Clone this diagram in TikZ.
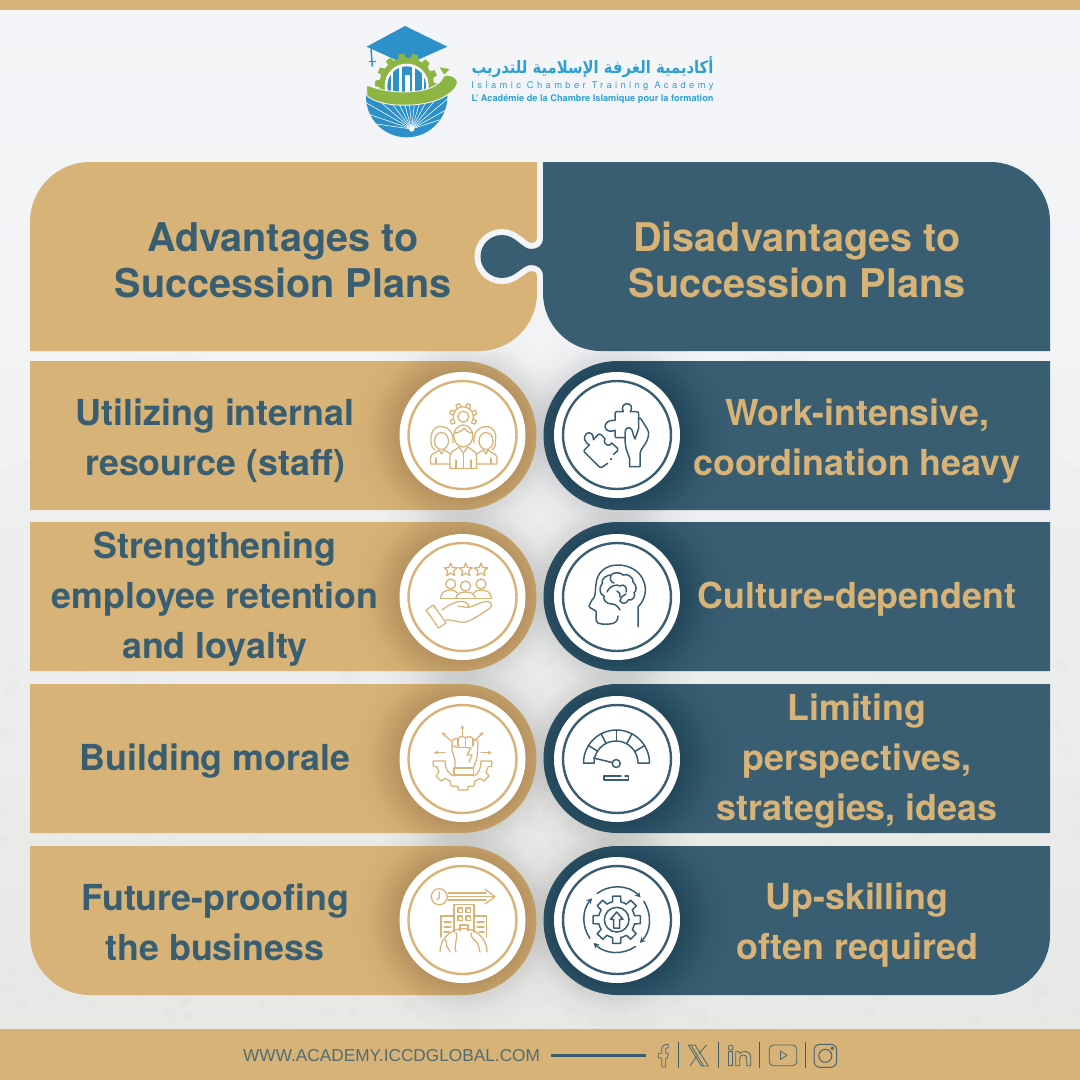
\documentclass[tikz,border=0pt]{standalone}
\usepackage{fontspec}
\usepackage{graphicx}
\usetikzlibrary{shapes.geometric,arrows.meta}
\setmainfont{TeX Gyre Heros}
\TeXXeTstate=1
\newfontfamily\arabicfont[Script=Arabic]{DejaVu Sans}
\newfontfamily\lightfont{Liberation Sans}
\definecolor{tan}{HTML}{D7B377}
\definecolor{deep}{HTML}{395E72}
\definecolor{paper}{HTML}{F3F5F8}
\definecolor{paperlow}{HTML}{E9E9E5}
\definecolor{logob}{HTML}{2E90C8}
\definecolor{logog}{HTML}{8DB544}
\definecolor{logot}{HTML}{2FA0D4}
\tikzset{
  head/.style={font=\fontsize{39.6}{46}\bfseries\selectfont,align=center,inner sep=0pt,anchor=center},
  rowtext/.style={font=\fontsize{35.8}{50}\bfseries\selectfont,align=center,inner sep=0pt,anchor=center},
  lt/.style={text=deep},
  rt/.style={text=tan},
  ilt/.style={draw=tan,line width=1.25pt,line join=round,line cap=round},
  idk/.style={draw=deep,line width=1.5pt,line join=round,line cap=round},
  soc/.style={draw=deep!90!tan,line width=.8pt,line join=round},
  disc/.style={circle,fill=white,inner sep=0pt,minimum size=126pt},
}
\newcommand\leftpill[2]{(30,#1) -- (462,#1) arc[start angle=-90,end angle=90,radius=74.5] -- (30,#2) -- cycle}
\newcommand\rightpill[2]{(1050,#1) -- (618,#1) arc[start angle=270,end angle=90,radius=74.5] -- (1050,#2) -- cycle}
\newcommand\softshadow[2]{%
  \foreach \r in {64,68,...,112}{\fill[black,opacity=.005] (#1,#2) circle[radius=\r];}
  \foreach \r in {64,67,...,91}{\fill[black,opacity=.009] (#1,#2) circle[radius=\r];}
}
\newcommand\badge[5]{%
  \node[disc] (#1) at (#2,#3) {};
  \draw[#4,line width=2.4pt] (#2,#3) circle[radius=54];
}
\begin{document}
\begin{tikzpicture}[x=1pt,y=-1pt]
\useasboundingbox (0,0) rectangle (1080,1080);
% ---------- background
\shade[top color=paper,bottom color=paperlow,middle color=paper!70!paperlow] (0,0) rectangle (1080,1080);
\fill[black!12,opacity=.12] (0,470) -- (60,448) -- (120,360) -- (190,352) -- (260,400) -- (360,410) -- (450,380) -- (505,345) -- (560,400) -- (660,380) -- (780,352) -- (900,392) -- (1010,420) -- (1080,470) -- (1080,1030) -- (0,1030) -- cycle;
\pgfmathsetseed{7}
\foreach \i in {1,...,700}{
  \pgfmathsetmacro\px{rnd*1080}\pgfmathsetmacro\py{560+rnd*470}
  \fill[black!50!yellow!50!black,opacity=.012] (\px,\py) circle[radius=3+rnd*4];
}
% ---------- top and bottom bands
\fill[tan] (0,0) rectangle (1080,10);
\fill[tan] (0,1029) rectangle (1080,1080);
% ---------- logo (drawn in the units of a 3x crop)
\begin{scope}[shift={(360,20)},x=.33333pt,y=-.33333pt]
  \begin{scope}
    \clip (0,215) rectangle (300,360);
    \clip (140,230) circle[radius=122];
    \fill[logob] (0,215) rectangle (300,360);
    \foreach \a in {188,199,...,352}{\draw[white,line width=.55pt] (155,327) -- ++(\a:190);}
    \fill[white] (155,327) circle[radius=8];
  \end{scope}
  \fill[logob] (135,18) -- (262,80) -- (190,112) -- (140,135) -- (90,112) -- (20,80) -- cycle;
  \draw[logob,line width=1.5pt] (33,85) -- (37,140);
  \draw[logob,line width=1.2pt] (28,125) -- (47,125);
  \begin{scope}
    \clip (0,0) rectangle (300,235);
    \fill[logog,shift={(140,195)}] (-4:82)
      \foreach \a in {0,25.714,51.428,77.142,102.857,128.571,154.285,180,205.714,231.428,257.142,282.857,308.571,334.285}{
        -- ({\a-4}:82) -- ({\a-2.5}:95) -- ({\a+8}:95) -- ({\a+11}:82)
      } -- cycle;
    \fill[white] (140,197) circle[radius=66];
    \begin{scope}
      \clip (140,197) circle[radius=58];
      \foreach \xa/\xb in {75/93,100/118,165/185,192/212}{\fill[logob] (\xa,130) rectangle (\xb,235);}
      \fill[logob] (125,130) rectangle (157,235);
      \fill[white] (134,165) rectangle (150,235);
    \end{scope}
  \end{scope}
  \path[fill=logog,draw=paper,line width=.9pt]
     (20,195) .. controls (70,215) and (125,220) .. (175,213) .. controls (215,208) and (245,190) .. (252,165)
     -- (235,140) -- (272,146) -- (252,168) -- (262,165)
     .. controls (295,170) and (300,190) .. (280,210) .. controls (240,250) and (170,258) .. (110,255)
     .. controls (70,253) and (30,240) .. (20,225) -- cycle;
\end{scope}
\node[inner sep=0pt,anchor=center,text=logot] (logoar) at (592.5,67) {\resizebox{242pt}{17pt}{\arabicfont\bfseries\beginR أكاديمية الغرفة الإسلامية للتدريب\endR}};
\node[inner sep=0pt,anchor=center,text=logot] (logoen) at (592.5,86) {\resizebox{242pt}{!}{\fontsize{8.5}{9}\selectfont\addfontfeature{LetterSpace=36}Islamic Chamber Training Academy}};
\node[inner sep=0pt,anchor=center,text=logot] (logofr) at (592.5,99) {\resizebox{242pt}{!}{\fontsize{9}{9}\bfseries\selectfont L' Académie de la Chambre Islamique pour la formation}};
% ---------- shadows on the background
\foreach \cy in {435,597,759,920}{\softshadow{462.5}{\cy}\softshadow{617}{\cy}}
% ---------- header pieces
\fill[tan] (90,162) -- (537,162) -- (537,293) arc[start angle=0,end angle=90,radius=58] -- (30,351) -- (30,222) arc[start angle=180,end angle=270,radius=60] -- cycle;
\draw[paper,line width=12pt] (543,226) -- (543,238) .. controls (543,246) and (537,249) .. (531,249) .. controls (522,249) and (516,235) .. (502,235) arc[start angle=-90,end angle=-270,radius=21.5] .. controls (516,278) and (522,265) .. (531,265) .. controls (537,265) and (543,268) .. (543,276) -- (543,288);
\fill[deep] (543,162) -- (990,162) arc[start angle=-90,end angle=0,radius=60] -- (1050,351) -- (601,351) arc[start angle=90,end angle=180,radius=58] -- (543,276) .. controls (543,268) and (537,265) .. (531,265) .. controls (522,265) and (516,278) .. (502,278) arc[start angle=90,end angle=270,radius=21.5] .. controls (516,235) and (522,249) .. (531,249) .. controls (537,249) and (543,246) .. (543,238) -- cycle;
\node[head,lt] (hl) at (283,260) {Advantages to\\Succession Plans};
\node[head,rt] (hr) at (797,260) {Disadvantages to\\Succession Plans};
% ---------- rows
\foreach \t/\b/\cy in {361/510/435,522/671/597,684/833/759}{
  \fill[tan] \leftpill{\t}{\b};
  \begin{scope}\clip \leftpill{\t}{\b}; \softshadow{462.5}{\cy}\end{scope}
  \fill[deep] \rightpill{\t}{\b};
  \begin{scope}\clip \rightpill{\t}{\b}; \softshadow{617}{\cy}\end{scope}
}
\newcommand\leftlast{(30,846) -- (462,846) arc[start angle=-90,end angle=90,radius=74.5] -- (90,995) arc[start angle=90,end angle=180,radius=60] -- cycle}
\newcommand\rightlast{(1050,846) -- (618,846) arc[start angle=270,end angle=90,radius=74.5] -- (990,995) arc[start angle=90,end angle=0,radius=60] -- cycle}
\fill[tan] \leftlast;
\begin{scope}\clip \leftlast; \softshadow{462.5}{920}\end{scope}
\fill[deep] \rightlast;
\begin{scope}\clip \rightlast; \softshadow{617}{920}\end{scope}
% discs
\badge{dl1}{462.5}{435}{tan}{}
\badge{dl2}{462.5}{597}{tan}{}
\badge{dl3}{462.5}{759}{tan}{}
\badge{dl4}{462.5}{920}{tan}{}
\badge{dr1}{617}{435}{deep}{}
\badge{dr2}{617}{597}{deep}{}
\badge{dr3}{617}{759}{deep}{}
\badge{dr4}{617}{920}{deep}{}
% ---------- row text
\node[rowtext,lt] (t1) at (215,441) {Utilizing internal\\resource (staff)};
\node[rowtext,lt] (t2) at (215,599.5) {Strengthening\\employee retention\\and loyalty};
\node[rowtext,lt] (t3) at (215,761) {Building morale};
\node[rowtext,lt] (t4) at (215,922.5) {Future-proofing\\the business};
\node[rowtext,rt] (u1) at (857,441) {Work-intensive,\\coordination heavy};
\node[rowtext,rt] (u2) at (857,599) {Culture-dependent};
\node[rowtext,rt] (u3) at (857,761.5) {Limiting\\perspectives,\\strategies, ideas};
\node[rowtext,rt] (u4) at (857,925.5) {Up-skilling\\often required};
% ---------- icon 1: team and gear
\begin{scope}[ilt]
  \draw (463.3,416.7) circle[radius=5.5];
  \draw (463.3,416.7) ++(150:10) arc[start angle=150,end angle=390,radius=10];
  \foreach \a in {-25,20,65,115,160,205}{\draw[rotate around={\a:(463.3,416.7)}] (473,414.5) -- (477,415) -- (477,418.4) -- (473,419);}
  \fill[white,draw=none] (463.3,436) ellipse[x radius=12,y radius=13];
  \draw (463.3,436) ellipse[x radius=9.5,y radius=11];
  \draw (454,433) .. controls (458,433) and (462,431) .. (464,428) .. controls (466,431) and (469,433) .. (473,433);
  \draw (450,468.5) -- (450,456) .. controls (450,451) and (456,450) .. (459,447) -- (463.3,453) -- (468,447) .. controls (471,450) and (476.5,451) .. (476.5,456) -- (476.5,468.5) -- cycle;
  \draw (463.3,453) -- (463.3,468.5);
  \draw (456,468.5) -- (456,460) (471,468.5) -- (471,460);
  \draw (441.5,441) ellipse[x radius=7,y radius=8.5];
  \draw (453,443) .. controls (454,432) and (448,426.5) .. (441,426.5) .. controls (433,426.5) and (430,434) .. (431,441) .. controls (431,447) and (433,449) .. (435,450);
  \draw (450,464) -- (430.5,464) -- (430.5,458) .. controls (431,453) and (436,453) .. (439,450) -- (441.5,454) -- (444,450) .. controls (446,452) and (449,452) .. (451,454);
  \draw (436,464) -- (436,458);
  \draw (486,441) ellipse[x radius=7,y radius=8.5];
  \draw (474,443) .. controls (473,432) and (479,426.5) .. (486,426.5) .. controls (494,426.5) and (497,434) .. (495.5,441) .. controls (495.5,447) and (494,449) .. (492,450);
  \draw (477,464) -- (497,464) -- (497,458) .. controls (496.5,453) and (491,453) .. (488,450) -- (486,454) -- (483.5,450) .. controls (481,452) and (478,452) .. (476.5,454);
  \draw (491,464) -- (491,458);
\end{scope}
% ---------- icon 2: hand holding people
\begin{scope}[ilt]
  \foreach \sx/\nm in {450.7/sa,465.7/sb,481/sc}{\node[star,star points=5,star point ratio=2.3,draw=tan,line width=1.25pt,inner sep=0pt,minimum size=14pt] (\nm) at (\sx,570) {};}
  \draw (450.7,584) circle[radius=5] (465.5,586) circle[radius=5] (481,584) circle[radius=5];
  \draw (440.5,598) .. controls (441,592) and (446,590) .. (450.7,590) .. controls (453,590) and (456,591) .. (457.5,593);
  \draw (491.5,598) .. controls (491,592) and (486,590) .. (481,590) .. controls (478,590) and (475,591) .. (473.5,593);
  \draw (456,598) .. controls (456,594) and (460,592) .. (465.5,592) .. controls (471,592) and (475,594) .. (475,598);
  \draw (440.5,598.3) -- (491.5,598.3);
  \draw[rotate around={35:(437,617)}] (432,605) rectangle (441,627);
  \fill[tan] (434,608) circle[radius=.9];
  \draw (442,610) .. controls (450,604) and (456,601) .. (462,601.5) .. controls (466,602) and (470,604) .. (468,607.5) -- (458,606);
  \draw (468,607.5) .. controls (475,606) and (482,601) .. (487,601.5) .. controls (491,601.5) and (493,605) .. (490,608) .. controls (482,614) and (472,620) .. (466,622) .. controls (460,623.5) and (452,619) .. (445.5,620);
\end{scope}
% ---------- icon 3: fist and half gear
\begin{scope}[ilt]
  \draw (452,750) -- (452,742) .. controls (452,739) and (456,738) .. (458,739) .. controls (459,736) and (464,736) .. (465.5,738) .. controls (467,736) and (472,736) .. (473,739) .. controls (475,738) and (478,740) .. (478,743) -- (477,758) -- (473.5,768) -- (455,768) -- (455,760) -- cycle;
  \draw (458,739) -- (458,746) (465.5,738) -- (465.5,746) (473,739) -- (473,746);
  \draw (452,746) .. controls (458,748) and (465,747) .. (471,748) -- (467,755) -- (472,755) -- (469,762);
  \draw (454,768) rectangle (473.5,775);
  \draw[-{Stealth[length=4pt,width=4pt]}] (462.3,736) -- (462.3,725);
  \draw[-{Stealth[length=4pt,width=4pt]}] (451,741) -- (441.7,732.3);
  \draw[-{Stealth[length=4pt,width=4pt]}] (474.3,741) -- (483.3,732.3);
  \draw[-{Stealth[length=4pt,width=4pt]}] (445,752.7) -- (434,752.7);
  \draw[-{Stealth[length=4pt,width=4pt]}] (481,752.7) -- (491.7,752.7);
  \draw (445,761) -- (433.3,761) -- (433.3,766) -- (437,767)
    -- (439,772) -- (436,776) -- (441,781) -- (445,778.5) -- (450,781) -- (451,786) -- (458,786.5) -- (458,790) -- (468,790) -- (468,786.5) -- (474,786) -- (475,781) -- (480,778.5) -- (484,781) -- (489,776) -- (486,772) -- (488,767) -- (491.7,766) -- (491.7,761) -- (481,761);
  \draw (445,761) .. controls (445,770) and (450,775) .. (454,776);
  \draw (481,761) .. controls (481,770) and (477,775) .. (473.5,776);
\end{scope}
% ---------- icon 4: clock, building, globe
\begin{scope}[ilt]
  \draw (439.3,896.7) circle[radius=8];
  \draw (439.3,892) -- (439.3,897.5) -- (437,900);
  \draw (448,893) -- (486,893) (448,896.7) -- (494,896.7) (448,900) -- (486,900);
  \draw (485,889) -- (495,896.7) -- (485,904);
  \draw (454,932) -- (454,904.5) -- (474,904.5) -- (474,932);
  \draw (441,937) -- (441,916) -- (454,916) (474,916) -- (486.5,916) -- (486.5,937);
  \foreach \bx/\by in {458/908,466/908,458/916,466/916}{\draw (\bx,\by) rectangle ++(4.5,4.5);}
  \draw (460,931) -- (460,925) -- (468,925) -- (468,931);
  \draw (444,922) -- (451,922) (444,927) -- (451,927) (444,932) -- (449,932) (477,922) -- (484,922) (477,927) -- (484,927) (479,932) -- (484,932);
  \draw (440,952) arc[start angle=180,end angle=360,radius=23.5];
  \draw (445,939) .. controls (448,942) and (445,946) .. (448,948) -- (450,952);
  \draw (456,932.5) .. controls (459,938) and (453,944) .. (456,952);
  \draw (471,933) .. controls (470,938) and (476,940) .. (478,944) -- (480,952);
\end{scope}
% ---------- icon 5: hand and puzzle (3x crop units)
\begin{scope}[idk,shift={(575,395)},x=.33333pt,y=-.33333pt]
  \draw (98,205) -- (82,216) .. controls (78,218) and (74,217) .. (72,215) -- (30,173) .. controls (26,170) and (26,166) .. (30,163) -- (43,150)
     .. controls (28,142) and (24,126) .. (34,116) .. controls (44,108) and (58,118) .. (55,134)
     -- (68,120) .. controls (71,116) and (75,116) .. (78,119) -- (90,131)
     .. controls (84,140) and (92,152) .. (103,151) .. controls (106,150) and (108,148) .. (110,144)
     -- (128,160) .. controls (130,163) and (130,165) .. (128,167) -- (116,178);
  \draw (110,190) -- (106,194);
  \draw (120,76) -- (120,56) .. controls (120,52) and (122,50) .. (126,50) -- (145,50)
     .. controls (138,38) and (145,26) .. (156,26) .. controls (168,26) and (174,38) .. (166,50)
     -- (184,50) .. controls (188,50) and (191,52) .. (191,56) -- (191,72);
  \draw (120,76) .. controls (100,74) and (90,84) .. (90,96) .. controls (92,108) and (108,112) .. (120,106) -- (120,122) .. controls (120,126) and (122,128) .. (126,128) -- (150,128);
  \draw (198,72) .. controls (205,85) and (218,100) .. (221,112) .. controls (222,130) and (212,145) .. (205,155) .. controls (198,165) and (195,170) .. (195,178) -- (195,215) -- (164,215) -- (164,190) .. controls (158,175) and (150,160) .. (150,128) .. controls (150,108) and (150,100) .. (160,98) .. controls (170,98) and (173,108) .. (175,120) -- (180,132) -- (191,100) -- (191,72) .. controls (193,68) and (196,68) .. (198,72);
\end{scope}
% ---------- icon 6: head and brain
\begin{scope}[idk]
  \draw (638,626.5) -- (638,607) .. controls (645,600) and (647,590) .. (644,582) .. controls (640,570) and (628,565) .. (618,565) .. controls (606,565) and (597,572) .. (596,584) .. controls (595,592) and (596,597) .. (592,600) -- (589,606) .. controls (590,609) and (594,609) .. (596,611) -- (596,620) .. controls (596,623) and (599,624) .. (602,624) -- (609,624) .. controls (615,624) and (618,621) .. (618,616);
  \draw (612,604) .. controls (606,604) and (603,600) .. (604,596) .. controls (599,594) and (599,587) .. (602,584) .. controls (601,578) and (607,575) .. (611,575) .. controls (613,572) and (621,572) .. (623,575) .. controls (628,573) and (634,578) .. (633,582) .. controls (637,585) and (637,591) .. (634,593) .. controls (636,596) and (633,601) .. (628,600) .. controls (628,603) and (622,605) .. (620,601);
  \draw (611,575) .. controls (609,580) and (612,583) .. (614,583);
  \draw (620,601) .. controls (621,597) and (623,595) .. (626,594);
  \draw (612,604) .. controls (615,604) and (618,606) .. (620,610);
  \draw (607,592) .. controls (610,585) and (617,584) .. (620,586) .. controls (624,583) and (628,588) .. (626,592);
  \draw (617,591) .. controls (619,592) and (621,594) .. (620,597);
\end{scope}
% ---------- icon 7: gauge
\begin{scope}[idk]
  \draw (583.5,763) arc[start angle=180,end angle=360,radius=33] -- (638,763) arc[start angle=0,end angle=-180,radius=22] -- cycle;
  \foreach \a in {-148,-118,-90,-62,-32}{\draw (616.5,763) ++(\a:22) -- ++(\a:11);}
  \draw (616.2,763.5) circle[radius=4];
  \draw (612.2,762.5) -- (593.5,758);
  \draw (604,776) rectangle (628.5,780);
  \draw[white,line width=1.5pt] (622,776) -- (624,776);
\end{scope}
% ---------- icon 8: gear with arrow, circular arrows (3x crop units)
\begin{scope}[idk,shift={(616.7,919.7)},x=.33333pt,y=-.33333pt]
  \draw (0,0) circle[radius=37];
  \draw (0,-23) -- (-19,-1) -- (-9,-1) -- (-9,25) -- (9,25) -- (9,-1) -- (19,-1) -- cycle;
  \draw (-13:55) \foreach \a in {0,45,90,135,180,225,270,315}{
     -- ({\a-13}:55) -- ({\a-9.5}:72) -- ({\a+9.5}:72) -- ({\a+13}:55)
     arc[start angle=\a+13,end angle=\a+32,radius=55]
  } -- cycle;
  \draw[-{Stealth[length=5.5pt,width=6pt]}] (-127:98) arc[start angle=-127,end angle=-43,radius=98];
  \draw[-{Stealth[length=5.5pt,width=6pt]}] (-34:98) arc[start angle=-34,end angle=45,radius=98];
  \draw[-{Stealth[length=5.5pt,width=6pt]}] (55:98) arc[start angle=55,end angle=135,radius=98];
  \draw[-{Stealth[length=5.5pt,width=6pt]}] (145:98) arc[start angle=145,end angle=221,radius=98];
\end{scope}
% ---------- footer
\node[inner sep=0pt,anchor=west,text=deep!85!tan] (web) at (243,1056) {\lightfont\fontsize{17.25}{18}\selectfont WWW.ACADEMY.ICCDGLOBAL.COM};
\coordinate (ruleA) at (551,1055);
\coordinate (ruleB) at (646,1055);
\draw[deep,line width=3pt] (ruleA) -- (ruleB);
\draw[soc] (661.7,1067) -- (661.7,1058) -- (658.3,1058) -- (658.3,1053.3) -- (661.7,1053.3) -- (661.7,1050) .. controls (661.7,1046) and (664,1044.3) .. (668.3,1044.3) -- (668.3,1048) -- (666.5,1048) .. controls (665.7,1048) and (665.7,1049) .. (665.7,1050) -- (665.7,1053.3) -- (668.3,1053.3) -- (667.5,1058) -- (665.7,1058) -- (665.7,1067) -- cycle;
\draw[soc] (688.3,1045) -- (695,1045) -- (708.3,1066) -- (701.5,1066) -- cycle;
\draw[soc] (691,1045) -- (703.5,1066);
\draw[soc] (706.5,1045) -- (699,1053.5);
\draw[soc] (696.5,1056.5) -- (690,1066);
\foreach \x in {678.3,718.3,759.3,805}{\draw[deep,line width=.9pt] (\x,1042) -- (\x,1068);}
\draw[soc] (730.7,1047.7) circle[radius=2.5];
\draw[soc] (728.7,1051.7) rectangle (732.7,1065.7);
\draw[soc] (735.7,1051.7) -- (739.7,1051.7) -- (739.7,1053.5) .. controls (742,1050.5) and (750.7,1050) .. (750.7,1057) -- (750.7,1065.7) -- (746.7,1065.7) -- (746.7,1058) .. controls (746.7,1054) and (739.7,1054) .. (739.7,1058) -- (739.7,1065.7) -- (735.7,1065.7) -- cycle;
\draw[soc,rounded corners=4pt] (769.3,1045) rectangle (796.7,1065.7);
\draw[soc] (780.5,1051) -- (787,1055.3) -- (780.5,1059.5) -- cycle;
\draw[soc,line width=1pt,rounded corners=6pt] (814,1044.3) rectangle (836.7,1067.3);
\draw[soc,line width=1pt] (825.3,1055.8) circle[radius=6.5];
\draw[soc,line width=1pt] (832.3,1048.3) circle[radius=1.3];
\end{tikzpicture}
\end{document}
